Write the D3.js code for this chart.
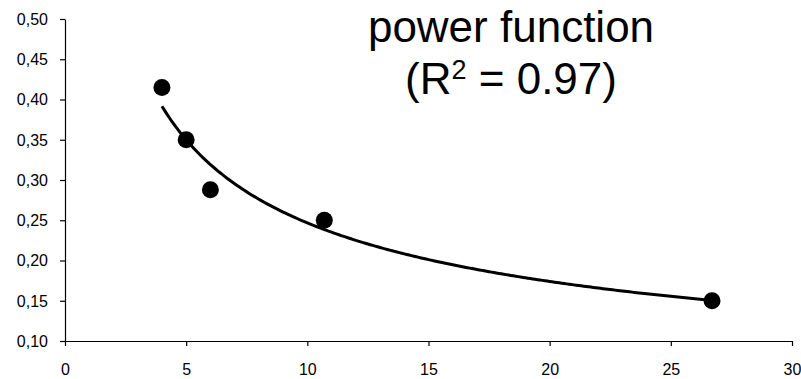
<!DOCTYPE html>
<html><head><meta charset="utf-8">
<script src="https://cdn.jsdelivr.net/npm/d3@7"></script>
<style>body{margin:0;background:#fff}svg{display:block}</style>
</head><body>
<svg id="c" width="801" height="379"></svg>
<script>
const xValues = [4.0, 5.0, 6.0, 10.7, 26.7];
const yValues = [0.415, 0.350, 0.288, 0.250, 0.150];
const xTicks = [0, 5, 10, 15, 20, 25, 30];
const yTicks = [0.10, 0.15, 0.20, 0.25, 0.30, 0.35, 0.40, 0.45, 0.50];
const titleLines = ["power function", "(R", "2", " = 0.97)"];

const svg = d3.select("#c");
const x = d3.scaleLinear().domain([0, 30]).range([65, 792]);
const y = d3.scaleLinear().domain([0.10, 0.50]).range([341, 19]);
const font = "Liberation Sans, Arial, sans-serif";

// axes
const xAxis = svg.append("g").attr("transform", `translate(0,${y(0.10)})`)
  .call(d3.axisBottom(x).tickValues(xTicks).tickSize(5).tickSizeOuter(0).tickFormat(d3.format("d")));
const yAxis = svg.append("g").attr("transform", `translate(${x(0)},0)`)
  .call(d3.axisLeft(y).tickValues(yTicks).tickSize(5).tickSizeOuter(0).tickFormat(d => d3.format(".2f")(d).replace(".", ",")));
[xAxis, yAxis].forEach(g => {
  g.select(".domain").attr("stroke", "#000").attr("stroke-width", 1.2);
  g.selectAll(".tick line").attr("stroke", "#000").attr("stroke-width", 1.2);
  g.selectAll("text").attr("fill", "#000").attr("font-family", font);
});
xAxis.selectAll("text").attr("font-size", 16).attr("y", 34).attr("dy", 0);
yAxis.selectAll("text").attr("font-size", 16).attr("x", -17).attr("dy", "0.33em");

// power fit (least squares in log space)
const lx = xValues.map(Math.log), ly = yValues.map(Math.log);
const mx = d3.mean(lx), my = d3.mean(ly);
const b = d3.sum(lx.map((v, i) => (v - mx) * (ly[i] - my))) / d3.sum(lx.map(v => (v - mx) ** 2));
const a = Math.exp(my - b * mx);
const xs = d3.range(xValues[0], xValues[xValues.length - 1] + 0.001, 0.1);
svg.append("path").datum(xs)
  .attr("fill", "none").attr("stroke", "#000").attr("stroke-width", 3)
  .attr("d", d3.line().x(d => x(d)).y(d => y(a * Math.pow(d, b))));

// points
svg.append("g").selectAll("circle").data(xValues).join("circle")
  .attr("cx", d => x(d)).attr("cy", (d, i) => y(yValues[i])).attr("r", 8.5).attr("fill", "#000");

// title
svg.append("text").attr("x", 511).attr("y", 42).attr("text-anchor", "middle")
  .attr("font-family", font).attr("font-size", 44).attr("fill", "#000").text(titleLines[0]);
const t2 = svg.append("text").attr("x", 511).attr("y", 94).attr("text-anchor", "middle")
  .attr("font-family", font).attr("font-size", 44).attr("fill", "#000");
t2.append("tspan").text(titleLines[1]);
t2.append("tspan").attr("dy", -15).attr("font-size", 27).text(titleLines[2]);
t2.append("tspan").attr("dy", 15).text(titleLines[3]);
</script>
</body></html>
